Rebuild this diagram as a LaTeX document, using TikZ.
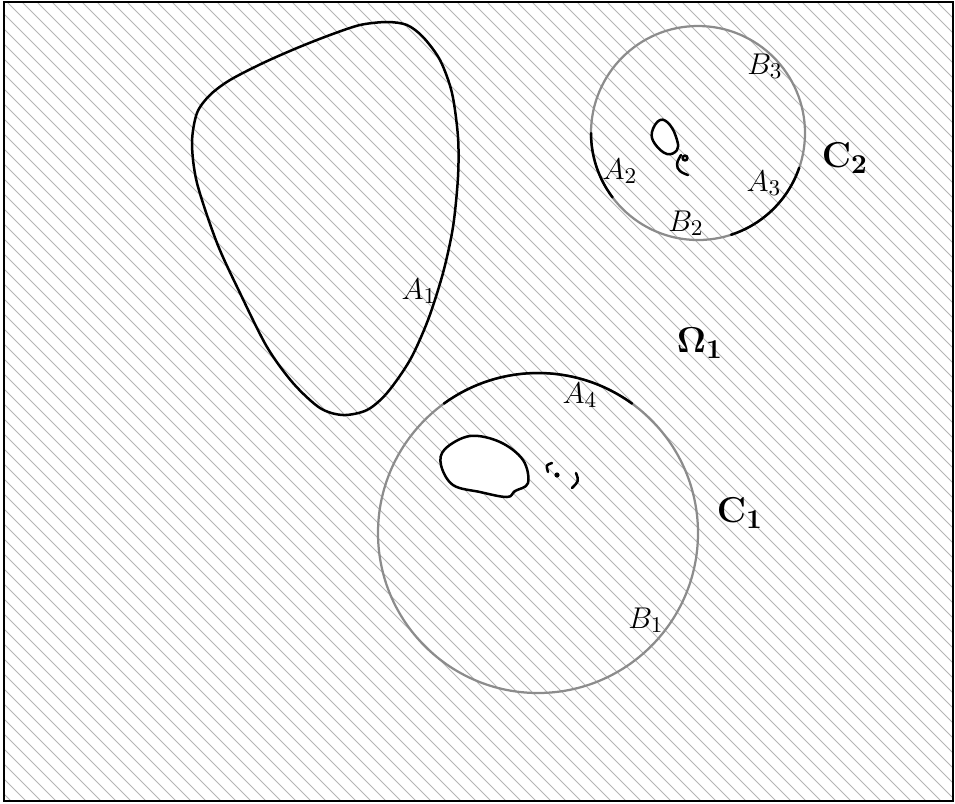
\documentclass[tikz,border=0pt]{standalone}
\usetikzlibrary{calc}
\begin{document}
\begin{tikzpicture}[x=0.4pt,y=-0.4pt,
  hatch/.style={draw=gray!58,line width=0.4pt},
  bk/.style={draw=black,line width=1pt,line cap=round,line join=round},
  grc/.style={draw=black!45,line width=0.9pt},
  lab/.style={inner sep=0pt,font=\fontsize{12.4}{15}\selectfont},
  blab/.style={inner sep=0pt,font=\fontsize{15.4}{18}\selectfont}]
\useasboundingbox (0,0) rectangle (955,803);
% hatching
\begin{scope}
  \clip (4,2) rectangle (953,801);
  \foreach \c in {-950,-935,...,810} \draw[hatch] (0,\c) -- (1000,1000+\c);
\end{scope}
% frame
\draw[line width=0.8pt] (4,2) rectangle (953,801);
% A1 closed curve
\draw[bk] plot[smooth cycle,tension=0.5] coordinates {
 (387,22) (407,25) (423,37) (440,60) (452,93) (458,137) (458,177) (453,227)
 (443,273) (428,320) (410,360) (387,393) (367,410) (343,415) (320,408) (293,383)
 (267,347) (240,293) (217,243) (197,183) (192,143) (197,113) (210,95) (230,80)
 (263,63) (297,48) (330,35) (360,25)};
% C1 hole
\filldraw[bk,fill=white] plot[smooth cycle,tension=0.6] coordinates {
 (470,436) (500,442) (523,460) (528,483) (515,491) (507,497) (480,492) (453,485) (441,465) (445,449)};
\draw[bk] (552,463) .. controls (546,465) .. (548,472);
\fill (557,475) circle[radius=2.6];
\draw[bk] (576,473) .. controls (579,481) .. (572,488);
% C2 hole
\filldraw[bk,fill=white] plot[smooth cycle,tension=0.7] coordinates {
 (660,120) (670,125) (677,140) (677,150) (667,154) (655,144) (652,132)};
\draw[bk] plot[smooth,tension=0.7] coordinates {(681,155) (677,164) (680,171) (688,175)};
\draw[bk] (685,158) circle[radius=2.4];
% circles
\coordinate (c1) at (538,533);
\coordinate (c2) at (698,133);
\draw[grc] (c1) circle[radius=160];
\draw[grc] (c2) circle[radius=107];
% black arcs
\draw[bk] ($(c1)+(234:160)$) arc[start angle=234,end angle=306,radius=160];
\draw[bk] ($(c2)+(143:107)$) arc[start angle=143,end angle=180,radius=107];
\draw[bk] ($(c2)+(19:107)$) arc[start angle=19,end angle=72,radius=107];
% labels
\node[lab] (lA1) at (419,291) {$A_1$};
\node[lab] (lA2) at (620,171) {$A_2$};
\node[lab] (lA3) at (764,183) {$A_3$};
\node[lab] (lB2) at (686,223) {$B_2$};
\node[lab] (lB3) at (765,66) {$B_3$};
\node[lab] (lA4) at (580,395) {$A_4$};
\node[lab] (lB1) at (646,620) {$B_1$};
\node[blab] (lO) at (700,343) {$\mathbf{\Omega_1}$};
\node[blab] (lC1) at (740,513) {$\mathbf{C_1}$};
\node[blab] (lC2) at (845,158) {$\mathbf{C_2}$};
\end{tikzpicture}
\end{document}
